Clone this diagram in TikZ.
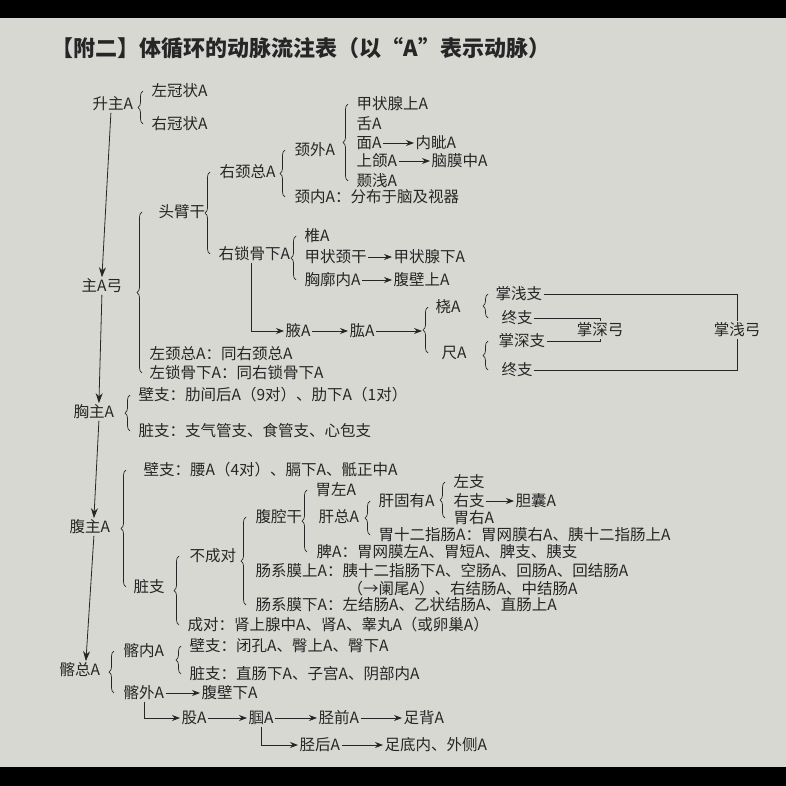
\documentclass[tikz,border=0pt]{standalone}
\usepackage{fontspec}
\setmainfont{Noto Sans CJK SC}
\usetikzlibrary{arrows.meta,calc,decorations.pathreplacing}
\definecolor{page}{HTML}{D8D8D3}
\definecolor{ink}{HTML}{262626}
\begin{document}
\begin{tikzpicture}[x=1pt,y=-1pt,
    t/.style={anchor=west, inner sep=1.5pt, text=ink, font=\fontsize{15.5}{16}\selectfont},
    arr/.style={draw=ink, line width=0.8pt, -{Stealth[length=8pt,width=6pt]}},
    trunk/.style={arr, -{Stealth[length=10pt,width=7pt]}},
    ln/.style={draw=ink, line width=0.8pt},
    brc/.style={draw=ink, line width=0.7pt, decorate, decoration={brace,amplitude=5pt}}]
    \useasboundingbox (0,0) rectangle (786,786);
    \fill[page] (0,0) rectangle (786,786);
    \fill[black] (0,0) rectangle (786,18);
    \fill[black] (0,767) rectangle (786,786);
    % title
    \node[t, font=\fontsize{22}{22}\selectfont\bfseries] (title) at (50,48) {【附二】体循环的动脉流注表（以“A”表示动脉）};
    % ascending aorta
    \node[t] (sz) at (91,104) {升主A};
    \node[t] (zg) at (150,91) {左冠状A};
    \node[t] (yg) at (150,124) {右冠状A};
    \draw[brc] ($(zg.west |- yg.west)+(-7,0)$) -- ($(zg.west)+(-7,0)$);
    % aortic arch
    \node[t] (gong) at (80,286) {主A弓};
    \node[t] (twb) at (157,212) {头臂干};
    \node[t] (yjz) at (218,172) {右颈总A};
    \node[t] (jw) at (293,150) {颈外A};
    \node[t] (jzx) at (355,104) {甲状腺上A};
    \node[t] (she) at (355,124) {舌A};
    \node[t] (mian) at (355,143) {面A};
    \node[t] (nz) at (414,143) {内眦A};
    \node[t] (shh) at (355,161) {上颌A};
    \node[t] (nmz) at (430,161) {脑膜中A};
    \node[t] (nq) at (355,181) {颞浅A};
    \node[t] (jn) at (293,197) {颈内A：分布于脑及视器};
    \node[t] (ysg) at (217,254) {右锁骨下A};
    \node[t] (zhui) at (303,236) {椎A};
    \node[t] (jzg) at (303,257) {甲状颈干};
    \node[t] (jzxx) at (392,257) {甲状腺下A};
    \node[t] (xkn) at (303,280) {胸廓内A};
    \node[t] (fbs) at (392,280) {腹壁上A};
    \node[t] (ye) at (284,331) {腋A};
    \node[t] (gongA) at (348,331) {肱A};
    \node[t] (rao) at (434,307) {桡A};
    \node[t] (zqz) at (494,294) {掌浅支};
    \node[t] (zza) at (500,318) {终支};
    \node[t] (chi) at (440,353) {尺A};
    \node[t] (zsz) at (497,341) {掌深支};
    \node[t] (zzb) at (500,370) {终支};
    \node[t, anchor=center] (zsg) at (600,330) {掌深弓};
    \node[t, anchor=center] (zqg) at (737,330) {掌浅弓};
    \node[t] (zjz) at (148,354) {左颈总A：同右颈总A};
    \node[t] (zsgx) at (148,373) {左锁骨下A：同右锁骨下A};
    \draw[brc] ($(zsgx.west)+(-6,0)$) -- ($(zsgx.west |- twb.west)+(-6,0)$);
    \draw[brc] ($(yjz.west |- ysg.west)+(-8,0)$) -- ($(yjz.west)+(-8,0)$);
    \draw[brc] ($(jw.west |- jn.west)+(-8,0)$) -- ($(jw.west)+(-8,0)$);
    \draw[brc] ($(jzx.west |- nq.west)+(-7,0)$) -- ($(jzx.west)+(-7,0)$);
    \draw[brc] ($(zhui.west |- xkn.west)+(-7,0)$) -- ($(zhui.west)+(-7,0)$);
    \draw[brc] ($(rao.west |- chi.west)+(-6,0)$) -- ($(rao.west)+(-6,0)$);
    \draw[brc] ($(zqz.west |- zza.west)+(-6,0)$) -- ($(zqz.west)+(-6,0)$);
    \draw[brc] ($(zqz.west |- zzb.west)+(-6,0)$) -- ($(zqz.west |- zsz.west)+(-6,0)$);
    \coordinate (rtip) at ($(rao.west |- gongA.west)+(-12,0)$);
    \draw[arr] (mian) -- (nz);
    \draw[arr] (shh) -- (nmz);
    \draw[arr] (jzg) -- (jzxx);
    \draw[arr] (xkn) -- (fbs);
    \draw[arr] ([xshift=-3pt]ysg.south) |- (ye.west);
    \draw[arr] (ye) -- (gongA);
    \draw[arr] (gongA) -- (rtip);
    \draw[ln] (zza.east) -| (zsg.north);
    \draw[ln] (zsz.east) -| (zsg.south);
    \draw[ln] (zqz.east) -| (zqg.north);
    \draw[ln] (zzb.east) -| (zqg.south);
    % thoracic aorta
    \node[t] (xz) at (72,412) {胸主A};
    \node[t] (bza) at (137,395) {壁支：肋间后A（9对）、肋下A（1对）};
    \node[t] (zzc) at (137,431) {脏支：支气管支、食管支、心包支};
    \draw[brc] ($(bza.west |- zzc.west)+(-7,0)$) -- ($(bza.west)+(-7,0)$);
    % abdominal aorta
    \node[t] (fz) at (68,527) {腹主A};
    \node[t] (bzb) at (142,470) {壁支：腰A（4对）、膈下A、骶正中A};
    \node[t] (zzd) at (132,587) {脏支};
    \node[t] (bcd) at (188,556) {不成对};
    \node[t] (cd) at (186,625) {成对：肾上腺中A、肾A、睾丸A（或卵巢A）};
    \node[t] (fqg) at (254,517) {腹腔干};
    \node[t] (wz) at (314,490) {胃左A};
    \node[t] (gz) at (317,517) {肝总A};
    \node[t] (pi) at (315,552) {脾A：胃网膜左A、胃短A、脾支、胰支};
    \node[t] (ggy) at (377,501) {肝固有A};
    \node[t] (zuozhi) at (452,482) {左支};
    \node[t] (youzhi) at (452,501) {右支};
    \node[t] (dn) at (514,501) {胆囊A};
    \node[t] (wy) at (452,518) {胃右A};
    \node[t] (wsez) at (377,535) {胃十二指肠A：胃网膜右A、胰十二指肠上A};
    \node[t] (cxs) at (254,571) {肠系膜上A：胰十二指肠下A、空肠A、回肠A、回结肠A};
    \node[t] (lw) at (346,589) {（→阑尾A）、右结肠A、中结肠A};
    \node[t] (cxx) at (254,605) {肠系膜下A：左结肠A、乙状结肠A、直肠上A};
    \draw[brc] ($(zzd.west)+(-6,0)$) -- ($(zzd.west |- bzb.west)+(-6,0)$);
    \draw[brc] ($(cd.west)+(-7,0)$) -- ($(cd.west |- bcd.west)+(-7,0)$);
    \draw[brc] ($(fqg.west |- cxx.west)+(-8,0)$) -- ($(fqg.west)+(-8,0)$);
    \draw[brc] ($(wz.west |- pi.west)+(-7,0)$) -- ($(wz.west)+(-7,0)$);
    \draw[brc] ($(ggy.west |- wsez.west)+(-7,0)$) -- ($(ggy.west)+(-7,0)$);
    \draw[brc] ($(zuozhi.west |- wy.west)+(-7,0)$) -- ($(zuozhi.west)+(-7,0)$);
    \draw[arr] (youzhi) -- (dn);
    % iliac
    \node[t] (qz) at (58,670) {髂总A};
    \node[t] (qn) at (122,651) {髂内A};
    \node[t] (bzc) at (188,646) {壁支：闭孔A、臀上A、臀下A};
    \node[t] (zze) at (188,674) {脏支：直肠下A、子宫A、阴部内A};
    \node[t] (qw) at (122,693) {髂外A};
    \node[t] (fbx) at (200,693) {腹壁下A};
    \node[t] (gu) at (180,718) {股A};
    \node[t] (guo) at (247,718) {腘A};
    \node[t] (jq) at (317,718) {胫前A};
    \node[t] (zb) at (402,718) {足背A};
    \node[t] (jh) at (298,745) {胫后A};
    \node[t] (zd) at (383,745) {足底内、外侧A};
    \draw[brc] ($(qn.west |- qw.west)+(-8,0)$) -- ($(qn.west)+(-8,0)$);
    \draw[brc] ($(bzc.west |- zze.west)+(-7,0)$) -- ($(bzc.west)+(-7,0)$);
    \draw[arr] (qw) -- (fbx);
    \draw[arr] (qw.south) |- (gu.west);
    \draw[arr] (gu) -- (guo);
    \draw[arr] (guo) -- (jq);
    \draw[arr] (jq) -- (zb);
    \draw[arr] (guo.south) |- (jh.west);
    \draw[arr] (jh) -- (zd);
    % trunk
    \draw[trunk] ([xshift=-2pt]sz.south) -- (gong.north);
    \draw[trunk] (gong.south) -- ([xshift=5pt]xz.north);
    \draw[trunk] ([xshift=5pt]xz.south) -- ([xshift=4pt]fz.north);
    \draw[trunk] ([xshift=4pt]fz.south) -- ([xshift=6pt]qz.north);
\end{tikzpicture}
\end{document}
